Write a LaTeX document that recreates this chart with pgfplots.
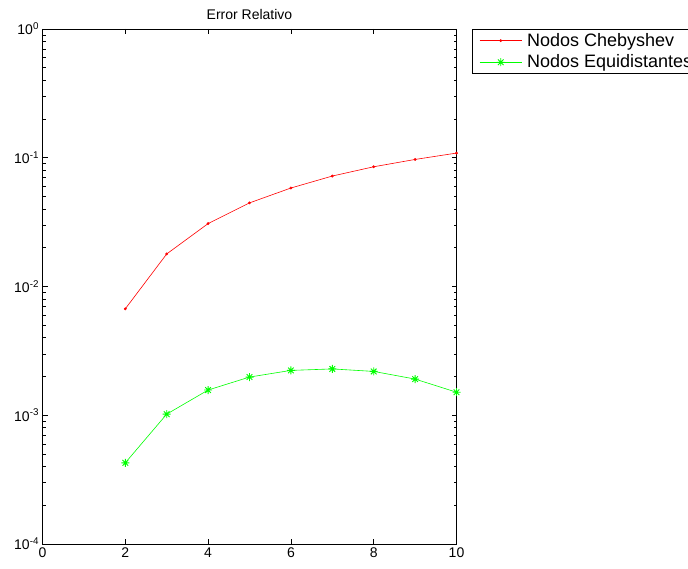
\documentclass[border=0pt]{standalone}
\usepackage{fontspec}
\setmainfont{Liberation Sans}
\usepackage{pgfplots}
\pgfplotsset{compat=1.18}

% MATLAB-style '*' marker: a plus and a cross on top of each other
\pgfdeclareplotmark{mstar}{%
  \pgfpathmoveto{\pgfqpoint{-\pgfplotmarksize}{0pt}}%
  \pgfpathlineto{\pgfqpoint{\pgfplotmarksize}{0pt}}%
  \pgfpathmoveto{\pgfqpoint{0pt}{-\pgfplotmarksize}}%
  \pgfpathlineto{\pgfqpoint{0pt}{\pgfplotmarksize}}%
  \pgfpathmoveto{\pgfqpoint{-0.707\pgfplotmarksize}{-0.707\pgfplotmarksize}}%
  \pgfpathlineto{\pgfqpoint{0.707\pgfplotmarksize}{0.707\pgfplotmarksize}}%
  \pgfpathmoveto{\pgfqpoint{-0.707\pgfplotmarksize}{0.707\pgfplotmarksize}}%
  \pgfpathlineto{\pgfqpoint{0.707\pgfplotmarksize}{-0.707\pgfplotmarksize}}%
  \pgfusepathqstroke}

\begin{document}
\begin{tikzpicture}
\useasboundingbox (0,0) rectangle (688pt,569pt);
\begin{axis}[
  at={(42.5pt,25pt)}, anchor=south west,
  scale only axis, width=414pt, height=515pt,
  ymode=log,
  xmin=0, xmax=10, ymin=1e-4, ymax=1,
  xtick={0,2,4,6,8,10},
  ytick={1e-4,1e-3,1e-2,1e-1,1},
  yticklabels={10\textsuperscript{-4},10\textsuperscript{-3},10\textsuperscript{-2},10\textsuperscript{-1},10\textsuperscript{0}},
  minor ytick={2e-4,3e-4,4e-4,5e-4,6e-4,7e-4,8e-4,9e-4,
               2e-3,3e-3,4e-3,5e-3,6e-3,7e-3,8e-3,9e-3,
               2e-2,3e-2,4e-2,5e-2,6e-2,7e-2,8e-2,9e-2,
               2e-1,3e-1,4e-1,5e-1,6e-1,7e-1,8e-1,9e-1},
  tick align=inside,
  major tick length=5pt, minor tick length=3pt,
  tick style={black, line width=0.6pt},
  axis line style={black, line width=0.9pt},
  ticklabel style={font=\fontsize{14}{16}\selectfont},
  /pgf/number format/assume math mode=true,
  title={Error Relativo},
  title style={font=\fontsize{14}{16}\selectfont, yshift=0pt},
  legend cell align=left,
  legend style={at={(1,1)}, anchor=north west, xshift=15.5pt, yshift=0pt,
    font=\fontsize{18}{21}\selectfont, draw=black, line width=0.8pt,
    inner xsep=7pt, inner ysep=3pt, row sep=5pt,
    nodes={inner xsep=5pt, inner ysep=1pt}},
  legend image code/.code={%
    \draw[mark repeat=2, mark phase=2, #1] plot coordinates {(0pt,0pt) (21pt,0pt) (42pt,0pt)};},
]
\addplot[red, line width=0.6pt, mark=*, mark size=1.1pt]
  coordinates {(2,0.00671) (3,0.0179) (4,0.0308) (5,0.0446) (6,0.0582)
               (7,0.0721) (8,0.0851) (9,0.0970) (10,0.1087)};
\addlegendentry{Nodos Chebyshev}
\addplot[green, line width=0.6pt, mark=mstar, mark size=4pt, mark options={line width=0.9pt}]
  coordinates {(2,0.000427) (3,0.00102) (4,0.00157) (5,0.00198) (6,0.00223)
               (7,0.00229) (8,0.00219) (9,0.00191) (10,0.00151)};
\addlegendentry{Nodos Equidistantes}
\end{axis}
\end{tikzpicture}
\end{document}
